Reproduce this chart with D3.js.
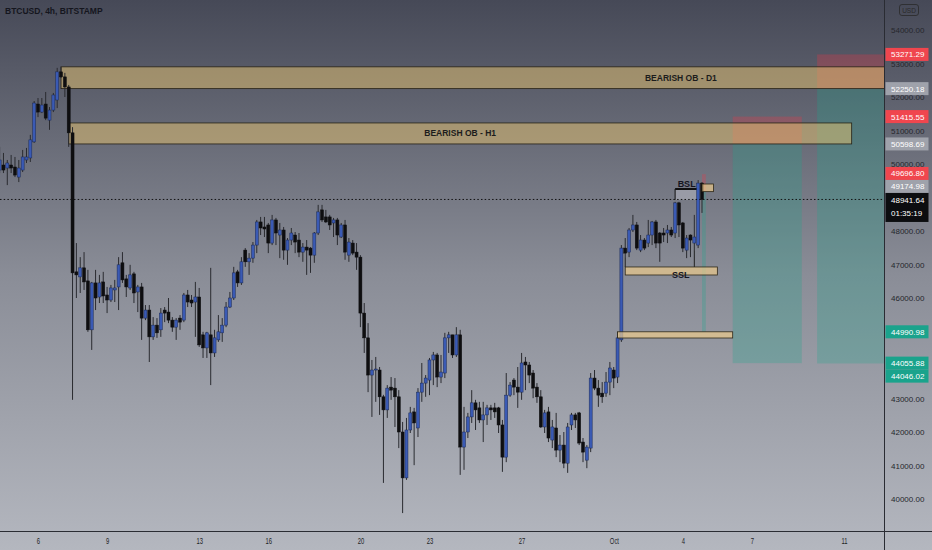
<!DOCTYPE html>
<html><head><meta charset="utf-8">
<script src="https://cdn.jsdelivr.net/npm/d3@7"></script>
<style>html,body{margin:0;padding:0;overflow:hidden;background:#888}svg{display:block}</style>
</head><body><svg id="c" width="932" height="550"></svg>
<script>
// ---------- DATA ----------
const title = "BTCUSD, 4h, BITSTAMP";
const firstBar = Date.UTC(2021, 8, 4, 8);   // 4h bars
const barHours = 4;
const opens = [
49820,49970,49880,49970,49910,49610,49820,50120,50180,50660,
51790,51550,51790,51310,51610,51910,52750,52600,52300,50930,
46780,46630,46900,46510,45050,46450,46030,46480,46090,45940,
46240,46330,47050,46570,46300,46720,46180,46330,45400,45640,
44840,45190,45050,45640,45580,45340,45130,45400,45340,46090,
45940,45880,46030,44900,44510,44900,44360,44750,44960,45190,
45730,46000,46780,46450,47430,47080,47190,47580,48270,48120,
48180,47640,48330,47880,48030,47430,47730,47880,47730,47370,
47520,47490,47280,47940,48630,48420,48420,48240,48330,47820,
48180,47280,47640,47370,47220,45550,44810,43700,43850,43850,
43050,42660,43340,43310,43050,42000,40630,42060,42600,42120,
43190,43460,43550,44150,44300,43640,43760,44810,44900,44300,
44900,41550,42000,42450,42870,42720,42360,42510,42720,42720,
42720,42210,41250,43100,43550,43340,43190,44090,44000,43760,
43340,43050,42150,42600,41760,42120,41460,41610,41070,42210,
42510,42570,41700,41160,41520,43610,43310,43160,43160,43490,
43850,43640,44750,47490,47370,48030,48180,47430,47730,47640,
47880,48270,47940,47940,47940,48030,47940,48840,48240,47430,
47880,47640,47580,49430];
const highs = [
50510,50330,50120,50270,50210,50120,50420,50480,50870,51880,
51970,51970,52150,51700,52120,52870,52900,52720,52360,51100,
47640,47220,47370,46840,46480,46840,46690,46780,46330,46390,
46540,47220,47370,46690,46990,46780,46390,46450,45790,45790,
45430,45400,45700,45730,46000,45430,45400,45490,46150,46240,
46090,46480,46300,44990,44990,46900,45050,45490,45400,45880,
46180,46930,46840,47220,47490,47340,47670,48330,48420,48420,
48240,48480,48390,48240,48120,47790,48090,47970,47940,47640,
47730,47520,47970,48780,48780,48630,48480,48390,48390,48240,
48330,47790,47730,47640,47280,45850,45250,44150,44240,43940,
43110,43400,43640,43610,43250,42300,42420,42750,42720,43310,
44060,43700,44210,44390,44360,44300,44960,44990,44900,45130,
45050,42750,42570,43250,42960,42900,42900,42810,42810,42870,
42750,42360,43760,43490,43610,43940,44360,44240,44090,43850,
43460,43250,42660,42750,42360,42570,41910,42000,42270,42570,
42570,42600,41820,41610,43760,43850,43550,43490,43790,44090,
43940,44990,47580,47790,48090,48480,48270,47880,47790,48330,
48300,48330,47970,48090,48180,48120,48870,48870,48270,47880,
47900,48480,49520,49460];
const lows = [
49730,49730,49370,49730,49610,49460,49760,50030,50060,50630,
51400,51520,51310,51020,51550,51670,52570,52000,50510,42960,
46000,46150,46240,44990,44450,45640,45850,45850,45550,45880,
45880,45640,46450,46030,46240,45850,45580,44750,45340,44090,
44750,44810,44840,45280,45250,44990,44750,45050,45280,45730,
45730,44840,44540,44210,44210,43400,44240,44690,44690,45130,
45700,45940,46330,46390,46930,46690,47050,47340,47880,47820,
47340,47580,47580,47190,47140,46990,47580,47340,47220,47080,
46690,46750,47050,47880,48270,48240,48030,47820,47580,47790,
47140,47080,47280,46840,45130,44360,43190,42450,42900,42510,
40480,42420,42960,42150,41520,39580,40570,41970,41010,41850,
42900,43050,43100,43400,43340,43460,43610,44360,44210,44240,
40720,40870,41820,42270,42060,42270,41700,42210,42360,42420,
41970,40810,41100,43050,43100,42720,42960,43250,43460,43010,
42870,42120,41970,41700,41520,41250,41100,40920,40780,42060,
42120,41610,41100,40920,41400,43250,42750,42870,43050,43100,
43310,43460,44690,47220,47220,47970,47430,47370,47430,47520,
47580,47490,47080,47670,47640,47820,47790,47820,47370,47190,
47220,47430,47490,48540];
const closes = [
50120,49820,50030,49880,49670,49880,50210,50210,50720,51820,
51550,51760,51370,51610,52060,52750,52600,52300,50930,46750,
46690,46900,46480,45050,46450,46000,46450,46060,45940,46300,
46300,46990,46540,46330,46690,46150,46330,45400,45640,44840,
45190,44960,45550,45550,45340,45130,45340,45280,46090,45880,
45850,46030,44600,44510,44960,44360,44810,44990,45190,45730,
46000,46750,46450,47080,47080,47190,47580,48270,48090,48060,
47640,48330,47940,48030,47430,47730,47940,47670,47370,47520,
47430,47280,47940,48570,48330,48270,48180,48330,47880,48180,
47370,47670,47340,47220,45550,44810,43700,43850,43880,43050,
42660,43310,43250,43050,42000,40630,42060,42570,42270,43190,
43460,43610,44150,44300,43640,43790,44810,44900,44300,44900,
41550,42000,42450,42870,42660,42360,42510,42720,42660,42600,
42210,41250,43100,43400,43340,43190,44060,44000,43700,43310,
43050,42150,42570,41820,42150,41460,41610,41070,42150,42510,
42360,41670,41400,41550,43610,43310,43100,43050,43490,43910,
43610,44810,47490,47340,48030,48180,47490,47730,47490,47880,
48270,47640,47640,47880,48030,47880,48840,48180,47490,47790,
47730,47820,49430,48940];

const currentPrice = 48941.64;
const countdown = "01:35:19";
const priceTicks = [40000,41000,42000,43000,44000,45000,46000,47000,48000,49000,50000,51000,52000,53000,54000];
const dateTickLabels = ["6","9","13","16","20","23","27","Oct","4","7","11"];
const dateTicks = [[2021,8,6],[2021,8,9],[2021,8,13],[2021,8,16],[2021,8,20],[2021,8,23],[2021,8,27],[2021,9,1],[2021,9,4],[2021,9,7],[2021,9,11]];

// short positions: stop, entry, target
const posFrom   = [Date.UTC(2021,9,6,4),  Date.UTC(2021,9,9,20), Date.UTC(2021,9,4,20)];
const posTo     = [Date.UTC(2021,9,9,4),  Date.UTC(2021,9,14,0), Date.UTC(2021,9,5,0)];
const posStop   = [51415.55, 53271.29, 49696.80];
const posEntry  = [50598.69, 52250.18, 49174.98];
const posTarget = [44055.88, 44046.02, 44990.98];

// order blocks
const obLabels = ["BEARISH OB - D1", "BEARISH OB - H1"];
const obFrom   = [Date.UTC(2021,8,7,0), Date.UTC(2021,8,7,8)];
const obTo     = [Date.UTC(2021,9,14,0), Date.UTC(2021,9,11,8)];
const obTop    = [52900, 51225];
const obBottom = [52250.18, 50598.69];
const obLabelAt= [Date.UTC(2021,9,3,22), null];

// small liquidity boxes
const boxFrom   = [Date.UTC(2021,9,1,12), Date.UTC(2021,9,1,4), Date.UTC(2021,9,4,20)];
const boxTo     = [Date.UTC(2021,9,5,12), Date.UTC(2021,9,6,4), Date.UTC(2021,9,5,8)];
const boxTop    = [46926, 44990.98, 49403];
const boxBottom = [46687, 44806, 49175];

// BSL / SSL marks
const bslFrom = Date.UTC(2021,9,3,16), bslTo = Date.UTC(2021,9,4,16), bslPrice = 49254, bslLow = 48930;
const sslMarks = [[Date.UTC(2021,9,1,12), 47220], [Date.UTC(2021,9,4,12), 47430]];

// ---------- CHART ----------
const W = 932, H = 550, plotR = 884, plotB = 531;
const FONT = "'Liberation Sans', Arial, sans-serif";
const svg = d3.select('#c');
const defs = svg.append('defs');
const grad = defs.append('linearGradient').attr('id','bg').attr('x1',0).attr('y1',0).attr('x2',0).attr('y2',1);
grad.append('stop').attr('offset','0%').attr('stop-color','#464957');
grad.append('stop').attr('offset','50%').attr('stop-color','#8a8d97');
grad.append('stop').attr('offset','100%').attr('stop-color','#b4b7bf');
defs.append('clipPath').attr('id','plot').append('rect').attr('width',plotR).attr('height',plotB);

svg.append('rect').attr('width',W).attr('height',H).attr('fill','url(#bg)');

const x = d3.scaleUtc().domain([new Date(Date.UTC(2021,8,6)), new Date(Date.UTC(2021,9,11))]).range([38, 844]);
const y = d3.scaleLinear().domain([40000, 54000]).range([499, 30]);

const bars = opens.map((o,i)=>({t:new Date(firstBar + i*barHours*3600e3), o, h:highs[i], l:lows[i], c:closes[i]}));

const g = svg.append('g').attr('clip-path','url(#plot)');

// positions
posFrom.forEach((f,i)=>{
  const x0 = x(new Date(f)), x1 = x(new Date(posTo[i]));
  g.append('rect').attr('x',x0).attr('width',x1-x0).attr('y',y(posStop[i])).attr('height',y(posEntry[i])-y(posStop[i]))
    .attr('fill','rgba(242,54,69,0.28)');
  g.append('rect').attr('x',x0).attr('width',x1-x0).attr('y',y(posEntry[i])).attr('height',y(posTarget[i])-y(posEntry[i]))
    .attr('fill','rgba(30,165,140,0.27)');
});

// order blocks
obLabels.forEach((lab,i)=>{
  const x0 = x(new Date(obFrom[i])), x1 = x(new Date(obTo[i]));
  g.append('rect').attr('x',x0).attr('width',x1-x0).attr('y',y(obTop[i])).attr('height',y(obBottom[i])-y(obTop[i]))
    .attr('fill','rgba(232,195,112,0.5)').attr('stroke','#262216').attr('stroke-width',0.8);
  const lx = obLabelAt[i] ? x(new Date(obLabelAt[i])) : (x0+x1)/2;
  g.append('text').attr('x',lx).attr('y',(y(obTop[i])+y(obBottom[i]))/2+3)
    .attr('text-anchor','middle').attr('font-family',FONT).attr('font-size',8.5).attr('font-weight','bold')
    .attr('fill','#1c1c1c').text(lab);
});

// BSL hatched area + line
{
  const x0 = x(new Date(bslFrom)), x1 = x(new Date(bslTo));
  g.append('rect').attr('x',x0).attr('width',x1-x0).attr('y',y(bslPrice)).attr('height',y(bslLow)-y(bslPrice))
    .attr('fill','rgba(220,220,230,0.35)');
  g.append('line').attr('x1',x0).attr('x2',x1).attr('y1',y(bslPrice)).attr('y2',y(bslPrice))
    .attr('stroke','#111').attr('stroke-width',2);
  g.append('line').attr('x1',x0).attr('x2',x0).attr('y1',y(bslPrice)).attr('y2',y(bslLow))
    .attr('stroke','#111').attr('stroke-width',1);
  g.append('text').attr('x',(x0+x1)/2).attr('y',y(bslPrice)-2).attr('text-anchor','middle')
    .attr('font-family',FONT).attr('font-size',9).attr('font-weight','bold').attr('fill','#15151f').text('BSL');
}

// SSL markers
sslMarks.forEach(([t,p])=>{
  g.append('line').attr('x1',x(new Date(t))).attr('x2',x(new Date(t))).attr('y1',y(p)).attr('y2',y(boxTop[0]))
    .attr('stroke','#222').attr('stroke-width',1);
});

// candles
g.selectAll('line.wick').data(bars).join('line').attr('class','wick')
  .attr('x1',d=>x(d.t)).attr('x2',d=>x(d.t)).attr('y1',d=>y(d.h)).attr('y2',d=>y(d.l))
  .attr('stroke','#2a2b30').attr('stroke-width',1);
g.selectAll('rect.body').data(bars).join('rect').attr('class','body')
  .attr('x',d=>x(d.t)-1.5).attr('width',3)
  .attr('y',d=>y(Math.max(d.o,d.c)))
  .attr('height',d=>Math.max(1,Math.abs(y(d.o)-y(d.c))))
  .attr('fill',d=>d.c>=d.o?'#3a5ab4':'#0e0e10')
  .attr('stroke',d=>d.c>=d.o?'#1c2a55':'#0e0e10').attr('stroke-width',0.5);

// small boxes
boxFrom.forEach((f,i)=>{
  const x0 = x(new Date(f)), x1 = x(new Date(boxTo[i]));
  g.append('rect').attr('x',x0).attr('width',x1-x0).attr('y',y(boxTop[i])).attr('height',y(boxBottom[i])-y(boxTop[i]))
    .attr('fill','rgba(240,205,140,0.68)').attr('stroke','#2e2818').attr('stroke-width',0.8);
});
g.append('text').attr('x',x(new Date(Date.UTC(2021,9,3,22)))).attr('y',y(boxBottom[0])+3.5).attr('text-anchor','middle')
  .attr('font-family',FONT).attr('font-size',9).attr('font-weight','bold').attr('fill','#15151f').text('SSL');

// current price dotted line
g.append('line').attr('x1',0).attr('x2',plotR).attr('y1',y(currentPrice)).attr('y2',y(currentPrice))
  .attr('stroke','#111').attr('stroke-width',1).attr('stroke-dasharray','1.5,2.2');

// frame lines
svg.append('line').attr('x1',0).attr('x2',W).attr('y1',plotB+0.5).attr('y2',plotB+0.5).attr('stroke','#2a2c33').attr('stroke-width',1);
svg.append('line').attr('x1',plotR+0.5).attr('x2',plotR+0.5).attr('y1',0).attr('y2',H).attr('stroke','#2a2c33').attr('stroke-width',1);

// title
svg.append('text').attr('x',5).attr('y',14).attr('font-family',FONT).attr('font-size',8.5).attr('font-weight','bold')
  .attr('fill','#15161e').text(title);

// bottom axis
const xAxis = d3.axisBottom(x).tickValues(dateTicks.map(d=>new Date(Date.UTC(d[0],d[1],d[2])))).tickSize(0)
  .tickFormat((d,i)=>dateTickLabels[i]);
const xa = svg.append('g').attr('transform',`translate(0,${plotB})`).call(xAxis);
xa.select('.domain').remove();
xa.selectAll('text').attr('font-family',FONT).attr('font-size',9).attr('fill','#1e1f25').attr('dy',0)
  .attr('y',13)
  .style('transform-box','fill-box').style('transform-origin','center').style('transform','scaleX(0.65)');

// price badges layout
const RED='#f0464e', GRAY='#9fa2ab', TEAL='#1aa38c';
const badgeVals = [posStop[1],posEntry[1],posStop[0],posEntry[0],posStop[2],posEntry[2],posTarget[2],posTarget[0],posTarget[1]];
const badgeCols = [RED,GRAY,RED,GRAY,RED,GRAY,TEAL,TEAL,TEAL];
const bh = 13;
const cpTop = y(currentPrice)-6.5, cpH = 29;
let items = badgeVals.map((v,i)=>({v, col:badgeCols[i], c:y(v)}));
let above = items.filter(d=>d.v>currentPrice).sort((a,b)=>b.c-a.c);
let limit = cpTop;
above.forEach(d=>{ if (d.c+bh/2>limit) d.c = limit-bh/2; limit = d.c-bh/2; });
let below = items.filter(d=>d.v<currentPrice).sort((a,b)=>a.c-b.c);
let lim2 = cpTop+cpH;
below.forEach(d=>{ if (d.c-bh/2<lim2) d.c = lim2+bh/2; lim2 = d.c+bh/2; });
const covered = [...items.map(d=>[d.c-bh/2,d.c+bh/2]), [cpTop, cpTop+cpH]];

// right axis (labels hidden where a badge covers them)
const visibleTicks = priceTicks.filter(v=>{
  const yy = y(v);
  return !covered.some(([a,b])=> yy>a-1.5 && yy<b+1.5);
});
const yAxis = d3.axisRight(y).tickValues(visibleTicks).tickSize(0).tickFormat(d3.format('.2f'));
const ya = svg.append('g').attr('transform',`translate(${plotR+7},0)`).call(yAxis);
ya.select('.domain').remove();
ya.selectAll('text').attr('font-family',FONT).attr('font-size',8).attr('fill','#26272d').attr('x',0);

// USD badge
svg.append('rect').attr('x',899.5).attr('y',4.5).attr('width',19).attr('height',11).attr('rx',2.5)
  .attr('fill','none').attr('stroke','#2a2a2a').attr('stroke-width',0.8);
svg.append('text').attr('x',909).attr('y',12.6).attr('text-anchor','middle').attr('font-family',FONT)
  .attr('font-size',6.5).attr('fill','#2a2a2a').text('USD');

const bx = plotR+1.5, bw = 43;
items.forEach(d=>{
  svg.append('rect').attr('x',bx).attr('y',d.c-bh/2).attr('width',bw).attr('height',bh).attr('fill',d.col);
  svg.append('text').attr('x',plotR+7).attr('y',d.c+3).attr('font-family',FONT).attr('font-size',8)
    .attr('fill','#fff').text(d3.format('.2f')(d.v));
});
svg.append('rect').attr('x',bx).attr('y',cpTop).attr('width',bw).attr('height',cpH).attr('fill','#0c0d10');
svg.append('text').attr('x',plotR+7).attr('y',cpTop+10).attr('font-family',FONT).attr('font-size',8).attr('fill','#fff')
  .text(d3.format('.2f')(currentPrice));
svg.append('text').attr('x',plotR+7).attr('y',cpTop+23).attr('font-family',FONT).attr('font-size',8).attr('fill','#fff')
  .text(countdown);
</script>
</body></html>
